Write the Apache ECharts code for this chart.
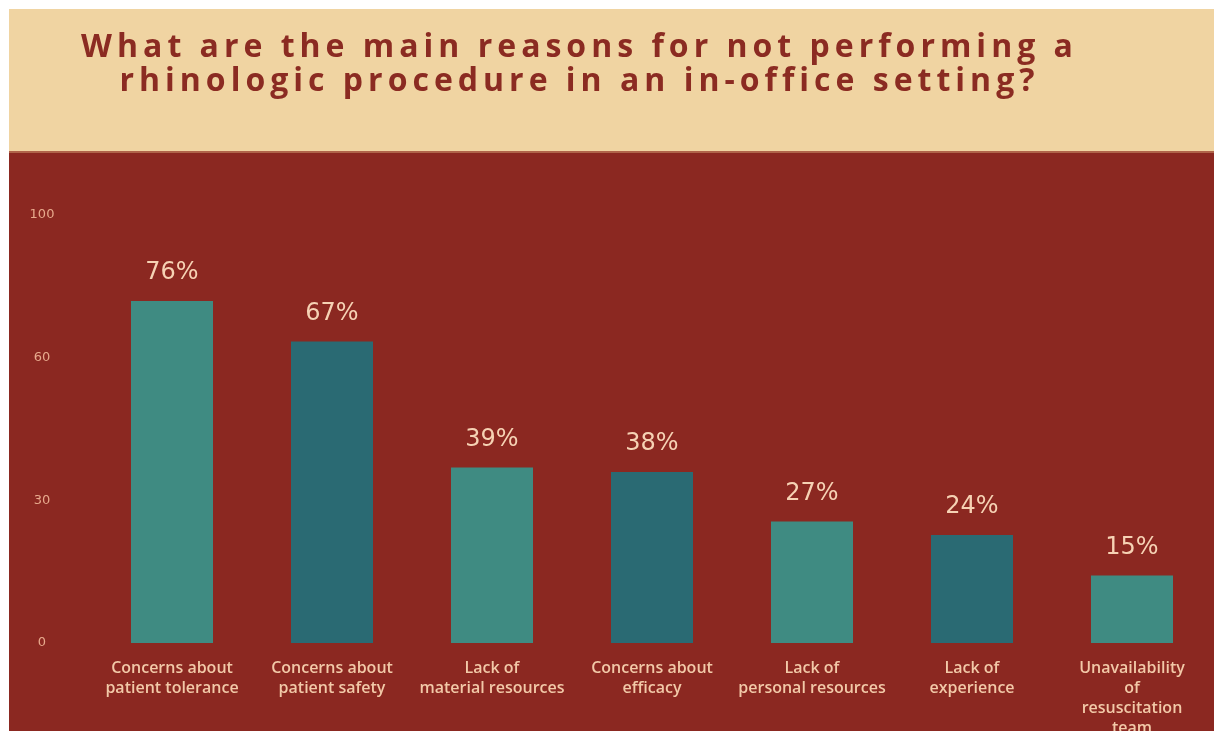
<!DOCTYPE html>
<html>
<head>
<meta charset="utf-8">
<script src="https://cdn.jsdelivr.net/npm/echarts@6/dist/echarts.min.js"></script>
<style>
  html, body { margin: 0; padding: 0; background: #ffffff; overflow: hidden; }
  #wrap { position: relative; width: 1214px; height: 731px; }
  #chart { position: absolute; left: 0; top: 0; width: 1214px; height: 731px; }
  /* title as html text so it can carry the wide letter spacing */
  #title {
    position: absolute; left: 9px; right: 0; top: 28px;
    text-align: center; padding-right: 64px;
    font-family: 'Open Sans', sans-serif; font-weight: 700;
    font-size: 32px; line-height: 34px; letter-spacing: 5px;
    color: #8b2b22; z-index: 2;
  }
</style>
</head>
<body>
<div id="wrap">
  <div id="chart"></div>
  <div id="title">What are the main reasons for not performing a<br>rhinologic procedure in an in-office setting?</div>
</div>
<script>
// data
const categories = [
  'Concerns about\npatient tolerance',
  'Concerns about\npatient safety',
  'Lack of\nmaterial resources',
  'Concerns about\nefficacy',
  'Lack of\npersonal resources',
  'Lack of\nexperience',
  'Unavailability\nof\nresuscitation\nteam'
];
const percents = [76, 67, 39, 38, 27, 24, 15];
const tickLabels = ['0', '30', '60', '100'];

// light / dark teal alternate
const barColors = ['#3f8b82', '#2a6a73'];

const chart = echarts.init(document.getElementById('chart'), null, { renderer: 'canvas' });

const option = {
  backgroundColor: '#ffffff',
  animation: false,
  graphic: [
    { type: 'rect', z: -10, shape: { x: 9, y: 9, width: 1205, height: 143 }, style: { fill: '#f0d4a2' } },
    { type: 'rect', z: -10, shape: { x: 9, y: 152, width: 1205, height: 579 }, style: { fill: '#8b2821' } },
    { type: 'rect', z: -9, shape: { x: 9, y: 151, width: 1205, height: 2 }, style: { fill: '#b0644a' } }
  ],
  grid: [
    // labels run off the bottom edge in the picture, so no outer bounds
    { left: 92, right: 2, top: 193, bottom: 88, outerBoundsMode: 'none' },
    { left: 92, right: 2, top: 215, bottom: 88, outerBoundsMode: 'none' }
  ],
  xAxis: [
    {
      type: 'category',
      gridIndex: 0,
      data: categories,
      axisLine: { show: false },
      axisTick: { show: false },
      axisLabel: {
        interval: 0,
        margin: 15,
        color: '#f2c9a8',
        fontFamily: 'Open Sans',
        fontWeight: 600,
        fontSize: 16,
        lineHeight: 20
      }
    },
    { type: 'value', gridIndex: 1, show: false }
  ],
  yAxis: [
    {
      type: 'value',
      gridIndex: 0,
      min: 0,
      max: 100,
      show: false
    },
    {
      // the tick labels sit evenly spaced, like in the picture
      type: 'category',
      gridIndex: 1,
      data: tickLabels,
      boundaryGap: false,
      axisLine: { show: false },
      axisTick: { show: false },
      splitLine: { show: false },
      axisLabel: {
        align: 'center',
        margin: 50,
        color: '#e7a98c',
        fontFamily: 'DejaVu Sans',
        fontSize: 13
      }
    }
  ],
  series: [{
    type: 'bar',
    xAxisIndex: 0,
    yAxisIndex: 0,
    barWidth: 82,
    data: percents.map((v, i) => ({
      value: v,
      itemStyle: { color: barColors[i % 2] }
    })),
    label: {
      show: true,
      position: 'top',
      distance: 16,
      formatter: p => p.value + '%',
      color: '#f6d2b4',
      fontFamily: 'DejaVu Sans',
      fontSize: 24
    }
  }]
};

chart.setOption(option);
</script>
</body>
</html>
